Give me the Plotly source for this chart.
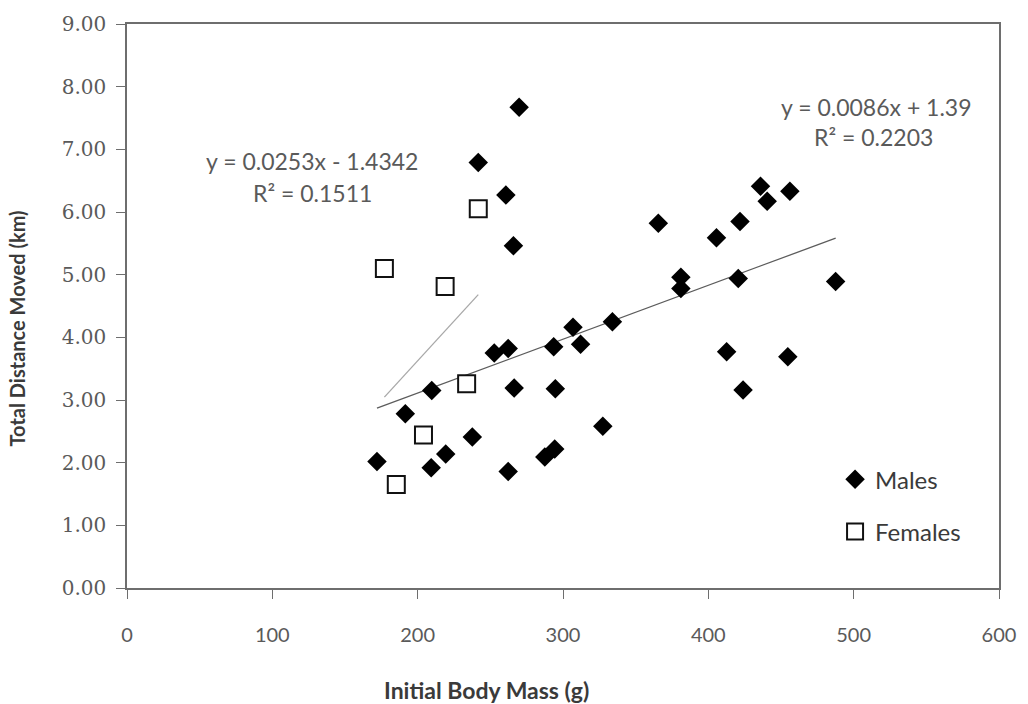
import numpy as np
import plotly.graph_objects as go

# Initial body mass (g) and total distance moved (km)
male_mass = [241.7, 260.7, 265.9, 269.8, 252.7, 262.3, 293.6, 306.9, 312.1, 334.0,
             209.7, 266.4, 294.7, 191.5, 237.6, 219.3, 172.0, 209.3, 262.3, 287.5,
             294.3, 327.4, 435.9, 440.5, 456.1, 365.6, 421.8, 405.6, 381.1, 381.1,
             420.6, 487.6, 412.6, 454.7, 423.9]
male_dist = [6.79, 6.27, 5.46, 7.67, 3.75, 3.82, 3.85, 4.16, 3.89, 4.25,
             3.15, 3.19, 3.18, 2.78, 2.41, 2.14, 2.02, 1.92, 1.86, 2.09,
             2.22, 2.58, 6.41, 6.17, 6.33, 5.82, 5.85, 5.59, 4.96, 4.78,
             4.94, 4.89, 3.77, 3.69, 3.16]

female_mass = [241.7, 177.1, 218.9, 233.7, 204.0, 185.3]
female_dist = [6.05, 5.10, 4.81, 3.26, 2.44, 1.65]

# Linear trend coefficients (slope, intercept) and R² as reported
male_fit = (0.0086, 1.39, 0.2203)
female_fit = (0.0253, -1.4342, 0.1511)

x_ticks = [0, 100, 200, 300, 400, 500, 600]
y_ticks = [0, 1, 2, 3, 4, 5, 6, 7, 8, 9]

LABEL_FONT = "Lato"
TICK_GREY = "#5a5a5a"

fig = go.Figure()


def trend(xs, fit):
    lo, hi = min(xs), max(xs)
    xx = np.array([lo, hi])
    return xx, fit[0] * xx + fit[1]


mx, my = trend(male_mass, male_fit)
fig.add_trace(go.Scatter(x=mx, y=my, mode="lines", showlegend=False,
                         line=dict(color="#5c5c5c", width=1.3), hoverinfo="skip"))
fx, fy = trend(female_mass, female_fit)
fig.add_trace(go.Scatter(x=fx, y=fy, mode="lines", showlegend=False,
                         line=dict(color="#a8a8a8", width=1.3), hoverinfo="skip"))

fig.add_trace(go.Scatter(
    x=male_mass, y=male_dist, mode="markers", name="Males", legendgroup="m",
    marker=dict(symbol="diamond", size=15, color="#000000",
                line=dict(color="#000000", width=0)),
))
fig.add_trace(go.Scatter(
    x=female_mass, y=female_dist, mode="markers", name="Females", legendgroup="f",
    marker=dict(symbol="square", size=17, color="#ffffff",
                line=dict(color="#111111", width=2)),
))


def eq_text(fit):
    sign = "+" if fit[1] >= 0 else "-"
    return f"y = {fit[0]:g}x {sign} {abs(fit[1]):g}", f"R² = {fit[2]:.4f}"


ann_font = dict(family=LABEL_FONT, size=23, color=TICK_GREY)
f1, f2 = eq_text(female_fit)
m1, m2 = eq_text(male_fit)
annotations = [
    dict(x=127.3, y=6.81, text=f1, showarrow=False, font=ann_font),
    dict(x=127.3, y=6.30, text=f2, showarrow=False, font=ann_font),
    dict(x=515.5, y=7.68, text=m1, showarrow=False, font=ann_font),
    dict(x=513.5, y=7.20, text=m2, showarrow=False, font=ann_font),
    dict(xref="paper", yref="paper", x=0.412, y=-0.18, xanchor="center", yanchor="middle",
         text="<b>Initial Body Mass (g)</b>", showarrow=False,
         font=dict(family=LABEL_FONT, size=23, color="#3a3a3a")),
    dict(xref="paper", yref="paper", x=-0.1256, y=0.461, xanchor="center", yanchor="middle",
         textangle=-90, text="<b>Total Distance Moved (km)</b>", showarrow=False,
         font=dict(family=LABEL_FONT, size=20, color="#3a3a3a")),
]

fig.update_layout(
    width=1028, height=704,
    margin=dict(l=127, r=25, t=20, b=116),
    paper_bgcolor="#ffffff", plot_bgcolor="#ffffff",
    annotations=annotations,
    legend=dict(x=0.812, y=0.232, xanchor="left", yanchor="top",
                font=dict(family=LABEL_FONT, size=24, color="#3a3a3a"),
                tracegroupgap=18, bgcolor="rgba(0,0,0,0)"),
)
fig.update_xaxes(
    range=[0, 600], tickvals=x_ticks, ticktext=[str(v) for v in x_ticks],
    showgrid=False, zeroline=False, showline=True, linecolor="#6e6e6e", linewidth=1.5,
    mirror=True, ticks="outside", ticklen=9, tickcolor="#6e6e6e", tickwidth=1.2,
    ticklabelstandoff=19,
    tickfont=dict(family=LABEL_FONT, size=20, color=TICK_GREY),
)
fig.update_yaxes(
    range=[0, 9], tickvals=y_ticks, ticktext=[f"{v:.2f}" for v in y_ticks],
    showgrid=False, zeroline=False, showline=True, linecolor="#6e6e6e", linewidth=1.5,
    mirror=True, ticks="outside", ticklen=9, tickcolor="#6e6e6e", tickwidth=1.2,
    ticklabelstandoff=6,
    tickfont=dict(family="DejaVu Serif", size=20, color=TICK_GREY),
)

fig.write_html("out.html")
